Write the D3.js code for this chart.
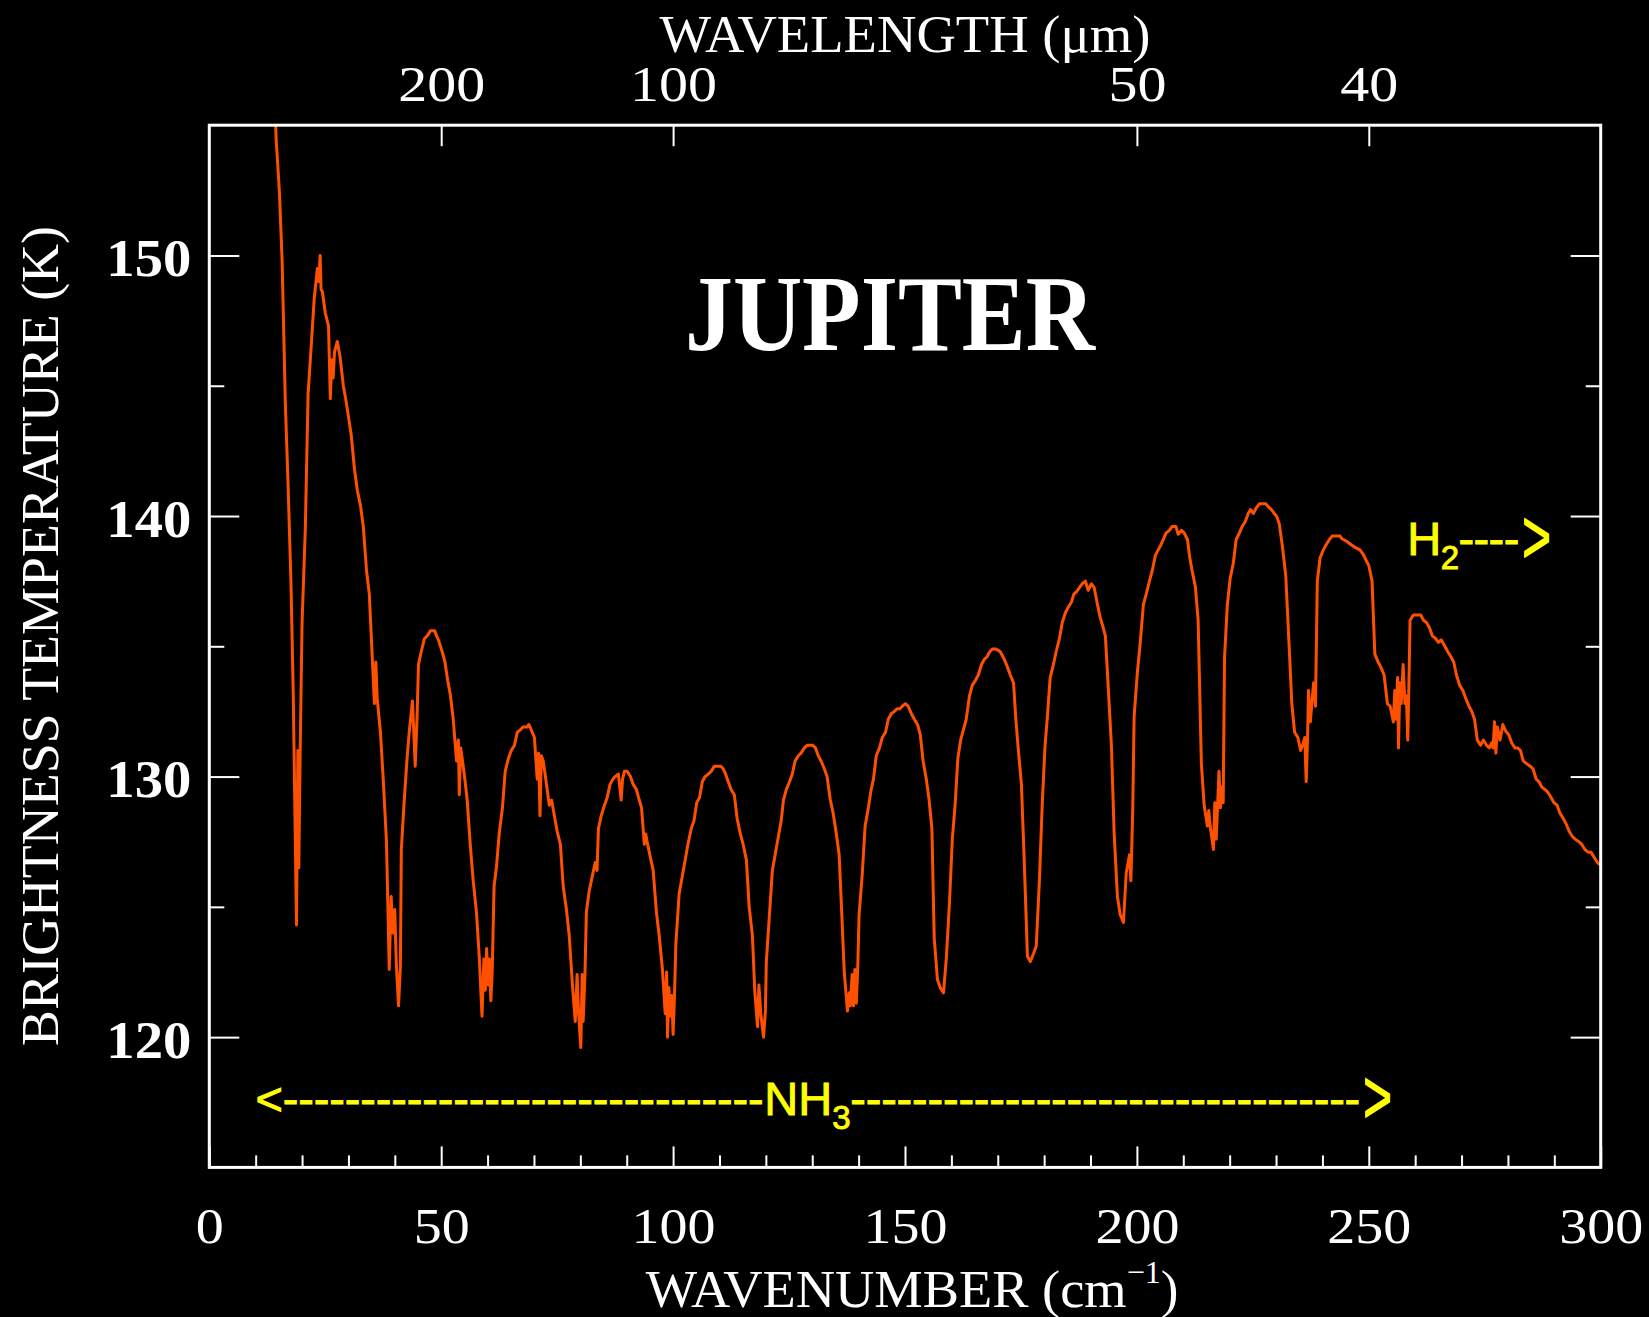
<!DOCTYPE html>
<html>
<head>
<meta charset="utf-8">
<script src="https://cdn.jsdelivr.net/npm/d3@7"></script>
<style>
  html, body { margin: 0; padding: 0; background: #000; }
  svg { display: block; }
</style>
</head>
<body>
<div id="chart"></div>
<script>
// Jupiter far-IR spectrum (cm^-1, K)
const wavenumber = [
  14.0, 14.4, 15.1, 15.7, 16.4, 17.0, 17.6, 18.1, 18.8, 19.1, 19.3, 19.6, 20.0, 20.7, 21.3, 22.0, 22.6, 23.3, 23.6, 23.9,
  24.1, 24.4, 25.0, 25.7, 26.1, 26.4, 26.7, 27.0, 27.6, 28.2, 28.9, 29.5, 30.1, 30.6, 31.3, 31.9, 32.6, 33.2, 33.9, 34.5,
  35.1, 35.6, 35.9, 36.2, 36.9, 37.5, 38.2, 38.8, 39.2, 39.6, 40.0, 40.3, 40.8, 41.2, 41.4, 42.0, 42.6, 43.1, 43.8, 44.4,
  44.8, 45.1, 45.7, 46.4, 47.0, 47.7, 48.6, 49.0, 49.5, 50.2, 50.8, 51.4, 52.0, 52.6, 53.3, 53.7, 53.9, 54.2, 54.6, 55.1,
  55.6, 56.3, 56.9, 57.6, 58.2, 58.8, 59.2, 59.5, 59.8, 60.1, 60.4, 60.7, 61.0, 61.4, 61.9, 62.5, 63.2, 63.8, 64.5, 65.1,
  65.8, 66.4, 67.1, 67.6, 68.5, 68.9, 69.4, 70.1, 70.7, 71.0, 71.3, 71.6, 72.0, 72.7, 73.3, 73.8, 74.4, 75.0, 75.7, 76.3,
  77.0, 77.6, 78.3, 78.9, 79.3, 79.6, 80.1, 80.4, 80.6, 81.0, 81.3, 81.9, 82.6, 83.2, 83.6, 83.9, 84.5, 85.2, 85.8, 86.4,
  87.0, 87.5, 88.2, 88.8, 89.1, 89.5, 90.1, 90.8, 91.4, 92.1, 92.7, 93.2, 93.8, 94.1, 94.4, 95.1, 95.7, 96.4, 97.0, 97.7,
  98.3, 98.6, 98.8, 99.1, 99.3, 99.7, 100.0, 100.3, 100.6, 101.3, 101.9, 102.6, 103.2, 103.9, 104.5, 105.1, 105.7, 106.3, 106.9, 107.6,
  108.2, 108.9, 110.3, 110.8, 111.3, 111.9, 112.5, 113.2, 113.8, 114.5, 115.1, 115.8, 116.4, 117.1, 117.6, 118.2, 118.5, 118.9, 119.5, 119.9,
  120.1, 120.7, 121.4, 122.0, 122.7, 123.3, 123.8, 124.4, 125.1, 125.7, 126.3, 127.0, 127.6, 128.3, 128.9, 130.1, 130.7, 131.3, 131.9, 132.6,
  133.2, 133.9, 134.5, 135.2, 135.8, 136.4, 136.9, 137.6, 138.0, 138.2, 138.6, 138.9, 139.2, 139.5, 139.8, 140.1, 140.8, 141.4, 142.1, 142.7,
  143.2, 143.8, 144.5, 145.1, 145.8, 146.4, 147.0, 147.7, 148.3, 148.9, 149.4, 150.1, 150.7, 151.4, 152.0, 152.7, 153.3, 153.9, 154.6, 155.2,
  155.8, 156.3, 157.0, 157.6, 158.3, 158.9, 159.6, 160.2, 160.8, 161.4, 162.0, 162.6, 163.2, 163.9, 164.5, 165.2, 165.8, 166.5, 167.1, 167.7,
  168.3, 168.9, 169.5, 170.5, 171.4, 172.1, 172.7, 173.4, 173.9, 174.4, 175.1, 175.7, 176.4, 177.0, 177.7, 178.3, 179.0, 179.6, 180.2, 180.7,
  181.3, 182.0, 182.6, 183.3, 183.9, 184.6, 185.2, 185.9, 186.4, 187.0, 187.6, 188.2, 188.9, 189.5, 190.2, 190.8, 191.5, 192.1, 192.6, 193.2,
  193.8, 194.5, 195.1, 195.8, 196.4, 197.1, 197.7, 198.4, 198.7, 199.1, 199.4, 200.1, 200.7, 201.4, 202.0, 202.7, 203.3, 204.0, 204.6, 205.2,
  205.7, 206.3, 207.0, 207.6, 208.4, 208.9, 209.6, 210.2, 210.9, 211.4, 211.9, 212.6, 213.2, 213.9, 214.5, 215.2, 215.5, 215.8, 216.5, 216.8,
  217.1, 217.7, 218.0, 218.3, 218.6, 218.9, 219.5, 220.1, 220.8, 221.4, 222.1, 222.7, 223.4, 224.0, 224.5, 225.1, 225.7, 226.4, 227.8, 228.3,
  229.0, 229.6, 230.1, 230.7, 231.4, 232.1, 232.8, 233.4, 234.0, 234.7, 235.3, 235.9, 236.2, 236.5, 236.8, 237.0, 237.4, 237.7, 238.1, 238.5,
  238.9, 239.5, 240.2, 240.8, 241.5, 242.1, 243.8, 244.2, 245.2, 246.2, 247.0, 248.1, 248.9, 249.4, 250.0, 250.7, 251.3, 252.0, 252.6, 253.3,
  254.0, 254.6, 255.3, 255.6, 255.9, 256.2, 256.4, 256.7, 257.0, 257.4, 257.8, 258.1, 258.4, 258.6, 258.9, 259.6, 261.2, 261.8, 262.5, 263.1,
  263.7, 264.4, 265.0, 265.6, 266.4, 267.0, 267.7, 268.3, 268.9, 269.6, 270.3, 270.9, 271.6, 272.2, 272.8, 273.4, 274.1, 274.7, 275.4, 276.0,
  276.5, 276.8, 277.1, 277.4, 277.7, 278.3, 278.9, 279.5, 280.2, 280.8, 281.5, 282.1, 282.7, 283.3, 284.0, 284.8, 285.4, 286.1, 286.7, 287.3,
  288.0, 288.6, 289.3, 289.9, 290.6, 291.2, 291.9, 292.5, 293.2, 293.9, 294.5, 295.3, 295.9, 296.6, 297.3, 297.9, 298.6, 299.3, 300.0
];
const brightnessT = [
  157.0, 154.5, 152.5, 149.8, 144.3, 141.1, 137.5, 133.2, 124.3, 131.0, 126.5, 131.1, 135.9, 139.5, 144.7, 146.6, 148.3, 149.5, 149.0, 150.0,
  148.7, 148.6, 147.8, 147.3, 144.5, 146.0, 145.3, 146.3, 146.7, 146.1, 145.0, 144.4, 143.7, 143.1, 141.8, 141.0, 140.4, 139.6, 137.9, 137.0,
  134.7, 132.8, 134.4, 133.0, 131.7, 129.9, 127.5, 122.6, 125.4, 124.0, 124.9, 122.9, 121.2, 122.7, 127.2, 129.0, 130.6, 131.7, 132.9, 130.4,
  132.3, 134.3, 134.8, 135.3, 135.4, 135.6, 135.6, 135.4, 135.2, 134.8, 134.4, 133.7, 133.1, 132.2, 130.6, 131.4, 129.3, 131.1, 130.6, 129.9,
  129.1, 127.3, 126.0, 124.8, 123.1, 120.8, 123.0, 121.8, 123.4, 122.0, 123.0, 121.4, 122.5, 125.8, 126.5, 127.8, 128.8, 130.2, 130.7, 131.0,
  131.2, 131.7, 131.8, 131.9, 131.9, 132.0, 131.8, 131.5, 129.9, 130.9, 128.5, 130.8, 130.6, 129.7, 128.9, 129.1, 128.5, 127.9, 127.4, 125.8,
  124.9, 123.9, 122.0, 120.6, 122.4, 121.0, 119.6, 122.4, 120.6, 122.4, 124.8, 125.6, 126.2, 126.7, 126.4, 128.0, 128.5, 128.9, 129.2, 129.7,
  129.9, 130.0, 130.1, 129.1, 129.9, 130.2, 130.2, 130.0, 129.7, 129.5, 129.1, 128.8, 127.4, 127.8, 127.5, 126.9, 126.4, 124.8, 123.9, 122.6,
  120.9, 122.5, 120.0, 121.9, 120.8, 121.6, 120.1, 121.6, 123.6, 125.5, 126.1, 126.8, 127.4, 128.0, 128.3, 129.0, 129.2, 129.8, 130.0, 130.1,
  130.2, 130.4, 130.4, 130.3, 130.1, 129.8, 129.5, 129.3, 128.4, 127.8, 127.4, 126.8, 125.0, 123.9, 121.8, 120.4, 122.0, 120.9, 120.0, 121.0,
  122.9, 124.5, 126.4, 127.0, 127.7, 128.3, 129.1, 129.5, 129.8, 130.1, 130.6, 130.8, 130.9, 131.1, 131.2, 131.2, 131.1, 130.8, 130.6, 130.3,
  130.0, 129.1, 128.6, 127.8, 127.0, 124.6, 122.5, 121.0, 121.7, 121.2, 122.4, 121.2, 122.6, 121.3, 122.6, 124.7, 126.3, 128.1, 128.8, 129.5,
  129.9, 130.8, 131.1, 131.5, 131.7, 132.2, 132.4, 132.5, 132.6, 132.6, 132.7, 132.8, 132.7, 132.4, 132.2, 132.0, 131.6, 130.6, 129.9, 129.1,
  128.0, 123.8, 122.2, 121.9, 121.7, 123.0, 125.2, 127.6, 128.9, 130.7, 131.4, 131.8, 132.2, 133.1, 133.5, 133.7, 133.9, 134.3, 134.5, 134.6,
  134.8, 134.9, 134.9, 134.8, 134.5, 134.2, 133.9, 133.6, 132.2, 131.1, 129.7, 126.8, 123.1, 122.9, 123.2, 123.5, 126.1, 129.0, 131.2, 132.3,
  133.8, 134.3, 134.8, 135.3, 135.9, 136.3, 136.5, 136.7, 137.0, 137.1, 137.25, 137.4, 137.5, 137.15, 137.4, 137.25, 136.6, 136.1, 135.8, 135.4,
  133.5, 131.2, 127.8, 125.4, 124.7, 124.4, 126.3, 127.0, 126.0, 128.7, 132.3, 134.0, 135.1, 136.6, 137.0, 137.5, 137.9, 138.5, 138.7, 138.9,
  139.1, 139.35, 139.45, 139.6, 139.6, 139.3, 139.45, 139.35, 139.1, 138.4, 137.9, 137.3, 136.0, 130.5, 128.9, 128.1, 128.7, 128.1, 127.2, 129.0,
  127.6, 130.2, 128.8, 129.6, 129.0, 134.6, 136.6, 137.6, 138.2, 139.1, 139.35, 139.6, 139.8, 140.1, 140.25, 140.1, 140.3, 140.47, 140.47, 140.36,
  140.25, 140.1, 140.0, 139.7, 138.8, 137.7, 135.1, 132.8, 131.7, 131.5, 131.0, 131.3, 131.5, 129.8, 131.5, 133.3, 132.1, 132.8, 133.6, 132.7,
  137.5, 138.4, 138.7, 138.9, 139.1, 139.23, 139.23, 139.13, 139.03, 138.9, 138.8, 138.7, 138.5, 138.3, 138.1, 137.5, 134.7, 134.4, 134.2, 133.9,
  132.8, 132.7, 132.1, 133.3, 132.2, 133.8, 131.1, 133.6, 132.8, 134.3, 132.8, 133.1, 131.4, 133.1, 136.0, 136.2, 136.2, 136.0, 135.9, 135.7,
  135.4, 135.3, 135.15, 135.25, 135.0, 134.8, 134.6, 134.4, 133.9, 133.5, 133.3, 133.0, 132.7, 132.5, 132.2, 131.4, 131.2, 131.4, 131.2, 131.1,
  131.3, 131.1, 132.1, 130.9, 131.9, 131.4, 132.0, 131.75, 131.6, 131.3, 131.1, 131.1, 131.0, 130.6, 130.5, 130.4, 130.3, 129.9, 129.8, 129.6,
  129.5, 129.4, 129.2, 129.0, 128.9, 128.6, 128.4, 128.2, 127.9, 127.7, 127.6, 127.5, 127.4, 127.2, 127.1, 127.1, 126.9, 126.7, 126.6
];

const xMajorTicks = [0, 50, 100, 150, 200, 250, 300];
const xMinorTicks = [10, 20, 30, 40, 60, 70, 80, 90, 110, 120, 130, 140, 160, 170, 180, 190, 210, 220, 230, 240, 260, 270, 280, 290];
const wavelengthTicks = [200, 100, 50, 40];   // microns, top axis
const tempMajorTicks = [120, 130, 140, 150];
const tempMinorTicks = [125, 135, 145];

const W = 1649, H = 1317;
const margin = { top: 125.2, right: 48.3, bottom: 149.6, left: 209.3 };

const x = d3.scaleLinear().domain([0, 300]).range([margin.left, W - margin.right]);
const y = d3.scaleLinear().domain([115, 155]).range([H - margin.bottom, margin.top]);

const svg = d3.select("#chart").append("svg")
  .attr("width", W)
  .attr("height", H)
  .style("background", "#000");

const serif = "'Liberation Serif', 'DejaVu Serif', serif";
const sans = "'Liberation Sans', Arial, 'DejaVu Sans', sans-serif";

svg.append("clipPath").attr("id", "plot-clip")
  .append("rect")
  .attr("x", x(0)).attr("y", y(155))
  .attr("width", x(300) - x(0)).attr("height", y(115) - y(155));

// spectrum
const line = d3.line()
  .x(d => x(d[0]))
  .y(d => y(d[1]));

svg.append("path")
  .datum(d3.zip(wavenumber, brightnessT))
  .attr("clip-path", "url(#plot-clip)")
  .attr("fill", "none")
  .attr("stroke", "#ff5000")
  .attr("stroke-width", 3)
  .attr("stroke-linejoin", "round")
  .attr("d", line);

// axes - ticks point inwards
function styleAxis(g) {
  g.select(".domain").remove();
  g.attr("color", "#fff");
  g.selectAll(".tick line").attr("stroke-width", 2);
}

const yBottom = y(115), yTop = y(155);

svg.append("g")
  .attr("transform", `translate(0,${yBottom})`)
  .call(d3.axisBottom(x).tickValues(xMinorTicks).tickSize(-12).tickFormat(""))
  .call(styleAxis);

svg.append("g")
  .attr("transform", `translate(0,${yBottom})`)
  .call(d3.axisBottom(x).tickValues(xMajorTicks).tickSize(-21))
  .call(styleAxis)
  .call(g => g.selectAll(".tick text")
    .attr("y", 75.5).attr("dy", null)
    .attr("font-family", serif).attr("font-size", 51)
    .attr("textLength", d => String(d).length * 28)
    .attr("lengthAdjust", "spacingAndGlyphs"));

svg.append("g")
  .attr("transform", `translate(0,${yTop})`)
  .call(d3.axisTop(x)
    .tickValues(wavelengthTicks.map(l => 10000 / l))
    .tickSize(-21)
    .tickFormat((d, i) => wavelengthTicks[i]))
  .call(styleAxis)
  .call(g => g.selectAll(".tick text")
    .attr("y", -24.5).attr("dy", null)
    .attr("font-family", serif).attr("font-size", 50)
    .attr("textLength", (d, i) => String(wavelengthTicks[i]).length * 29)
    .attr("lengthAdjust", "spacingAndGlyphs"));

svg.append("g")
  .attr("transform", `translate(${x(0)},0)`)
  .call(d3.axisLeft(y).tickValues(tempMinorTicks).tickSize(-15).tickFormat(""))
  .call(styleAxis);

svg.append("g")
  .attr("transform", `translate(${x(0)},0)`)
  .call(d3.axisLeft(y).tickValues(tempMajorTicks).tickSize(-30).tickPadding(18))
  .call(styleAxis)
  .call(g => g.selectAll(".tick text")
    .attr("dy", null).attr("y", 20)
    .attr("font-family", serif).attr("font-size", 52).attr("font-weight", "bold")
    .attr("textLength", 85)
    .attr("lengthAdjust", "spacingAndGlyphs"));

svg.append("g")
  .attr("transform", `translate(${x(300)},0)`)
  .call(d3.axisRight(y).tickValues(tempMinorTicks).tickSize(-15).tickFormat(""))
  .call(styleAxis);

svg.append("g")
  .attr("transform", `translate(${x(300)},0)`)
  .call(d3.axisRight(y).tickValues(tempMajorTicks).tickSize(-30).tickFormat(""))
  .call(styleAxis);

// frame
svg.append("rect")
  .attr("x", x(0)).attr("y", y(155))
  .attr("width", x(300) - x(0)).attr("height", y(115) - y(155))
  .attr("fill", "none")
  .attr("stroke", "#fff")
  .attr("stroke-width", 3);

// axis titles
const plotMid = (x(0) + x(300)) / 2;

svg.append("text")
  .attr("x", plotMid).attr("y", 52)
  .attr("text-anchor", "middle")
  .attr("font-family", serif).attr("font-size", 53)
  .attr("fill", "#fff")
  .attr("textLength", 491).attr("lengthAdjust", "spacingAndGlyphs")
  .text("WAVELENGTH (\u03bcm)");

const xTitle = svg.append("text")
  .attr("x", 645.7).attr("y", 1306.5)
  .attr("font-family", serif).attr("font-size", 53)
  .attr("fill", "#fff");
xTitle.append("tspan")
  .attr("textLength", 481).attr("lengthAdjust", "spacingAndGlyphs")
  .text("WAVENUMBER (cm");
xTitle.append("tspan").attr("font-size", 32).attr("dy", -24).text("\u22121");
xTitle.append("tspan").attr("dy", 24).text(")");

svg.append("text")
  .attr("transform", "translate(58.3,636) rotate(-90)")
  .attr("text-anchor", "middle")
  .attr("font-family", serif).attr("font-size", 53)
  .attr("fill", "#fff")
  .attr("textLength", 820).attr("lengthAdjust", "spacingAndGlyphs")
  .text("BRIGHTNESS TEMPERATURE (K)");

// annotations
svg.append("text")
  .attr("x", x(146.76)).attr("y", y(146.37))
  .attr("text-anchor", "middle")
  .attr("font-family", serif).attr("font-size", 108).attr("font-weight", "bold")
  .attr("fill", "#fff")
  .attr("textLength", 410).attr("lengthAdjust", "spacingAndGlyphs")
  .text("JUPITER");

const yellow = "#ffff00";
function yellowText(wn, k) {
  return svg.append("text")
    .attr("x", x(wn)).attr("y", y(k))
    .attr("font-family", sans).attr("font-size", 47)
    .attr("fill", yellow)
    .attr("stroke", yellow).attr("stroke-width", 0.9);
}
// tall chevron for the arrow heads, tip at (wn, k)
function chevron(wn, k) {
  svg.append("text")
    .attr("transform", `translate(${x(wn)},${y(k)}) scale(1.05,1.6)`)
    .attr("text-anchor", "end")
    .attr("y", 16)
    .attr("font-family", sans).attr("font-size", 47)
    .attr("fill", yellow)
    .attr("stroke", yellow).attr("stroke-width", 0.9)
    .text(">");
}

// H2 --->
const h2 = yellowText(258.3, 138.49)
  .attr("textLength", 112).attr("lengthAdjust", "spacing");
h2.append("tspan").text("H");
h2.append("tspan").attr("font-size", 33).attr("dy", 14).text("2");
h2.append("tspan").attr("dy", -14).text("----");
chevron(289.3, 139.18);

// <---- NH3 ---->
yellowText(9.97, 117.01)
  .attr("textLength", 508).attr("lengthAdjust", "spacing")
  .text("<" + "-".repeat(31));
const nh3 = yellowText(119.65, 117.01);
nh3.append("tspan").text("NH");
nh3.append("tspan").attr("font-size", 33).attr("dy", 14).text("3");
yellowText(138.2, 117.01)
  .attr("textLength", 510).attr("lengthAdjust", "spacing")
  .text("-".repeat(33));
chevron(255.0, 117.69);
</script>
</body>
</html>
